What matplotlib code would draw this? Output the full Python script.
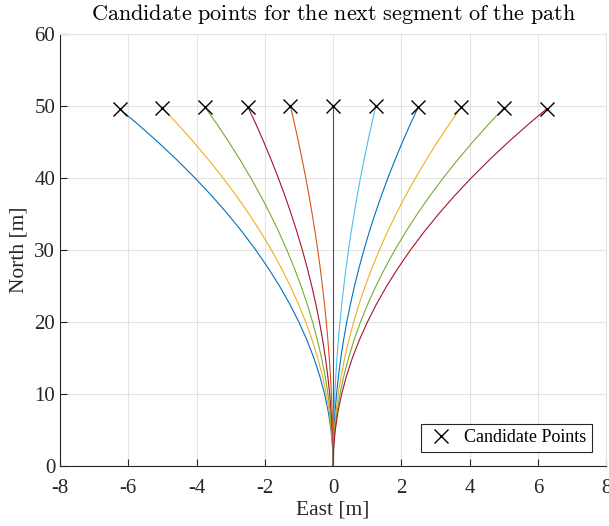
import numpy as np
import matplotlib.pyplot as plt

plt.rcParams['font.family'] = ['Liberation Serif', 'DejaVu Serif']
plt.rcParams['mathtext.fontset'] = 'cm'
plt.rcParams['axes.unicode_minus'] = False

# candidate points (end of each path)
cand_x = [-6.25, -5.0, -3.75, -2.5, -1.25, 0.0, 1.25, 2.5, 3.75, 5.0, 6.25]
cand_y = [49.61, 49.75, 49.86, 49.94, 49.98, 50.0, 49.98, 49.94, 49.86, 49.75, 49.61]

# path samples: lateral offset (east) read at fixed north levels
north_levels = [0, 2.5, 5, 7.5, 10, 12.5, 15, 17.5, 20, 22.5,
                25, 27.5, 30, 32.5, 35, 37.5, 40, 42.5, 45, 47.5]
offset_625 = [0, 0.0156, 0.0625, 0.1406, 0.250, 0.391, 0.563, 0.767, 1.003, 1.270,
              1.569, 1.900, 2.263, 2.658, 3.086, 3.547, 4.041, 4.568, 5.128, 5.722]
offset_500 = [0, 0.0125, 0.050, 0.1125, 0.200, 0.313, 0.450, 0.613, 0.801, 1.015,
              1.253, 1.517, 1.806, 2.121, 2.462, 2.828, 3.220, 3.639, 4.083, 4.554]
offset_375 = [0, 0.0094, 0.0375, 0.0844, 0.150, 0.2345, 0.338, 0.460, 0.601, 0.760,
              0.939, 1.136, 1.353, 1.588, 1.843, 2.116, 2.409, 2.720, 3.051, 3.402]
offset_250 = [0, 0.0063, 0.025, 0.0563, 0.100, 0.1563, 0.225, 0.306, 0.400, 0.507,
              0.625, 0.757, 0.901, 1.057, 1.227, 1.408, 1.603, 1.810, 2.029, 2.261]
offset_125 = [0, 0.0031, 0.0125, 0.0281, 0.050, 0.0781, 0.1125, 0.1531, 0.200, 0.2531,
              0.3125, 0.378, 0.450, 0.528, 0.613, 0.703, 0.800, 0.904, 1.013, 1.129]
offset_000 = [0] * 20

paths = [
    [-v for v in offset_625], [-v for v in offset_500], [-v for v in offset_375],
    [-v for v in offset_250], [-v for v in offset_125], offset_000,
    offset_125, offset_250, offset_375, offset_500, offset_625,
]

colors = ['#0072BD', '#EDB120', '#77AC30', '#A2142F', '#D95319', '#7E2F8E',
          '#4DBEEE', '#0072BD', '#EDB120', '#77AC30', '#A2142F']

fig = plt.figure(figsize=(6.09, 5.26), dpi=100)
ax = fig.add_axes([0.0985, 0.114, 0.897, 0.821])

for px, ex, ey, c in zip(paths, cand_x, cand_y, colors):
    ax.plot(px + [ex], north_levels + [ey], color=c, lw=0.8)

ax.plot(cand_x, cand_y, 'x', color='black', ms=10, mew=1.0, ls='none',
        label='Candidate Points')

ax.set_xlim(-8, 8)
ax.set_ylim(0, 60)
ax.set_xticks(range(-8, 9, 2))
ax.set_yticks(range(0, 61, 10))
ax.grid(True, color='#e3e3e3', lw=0.8)
ax.set_axisbelow(True)
ax.tick_params(direction='in', length=5, width=0.8, labelsize=15, colors='#262626')
ax.tick_params(axis='x', pad=9)
for s in ['top', 'right']:
    ax.spines[s].set_color('#e3e3e3')
for s in ['left', 'bottom']:
    ax.spines[s].set_color('#262626')
    ax.spines[s].set_linewidth(0.8)

ax.set_xlabel('East [m]', fontsize=15.5, color='#262626', labelpad=2)
ax.set_ylabel('North [m]', fontsize=15.5, color='#262626', labelpad=4)
ax.set_title(r'$\mathrm{Candidate\ points\ for\ the\ next\ segment\ of\ the\ path}$',
             fontsize=16, pad=10)

leg = ax.legend(loc='lower right', fontsize=13, fancybox=False, framealpha=1,
                edgecolor='#262626', borderaxespad=0.8, handletextpad=0.5,
                handlelength=1.6, borderpad=0.3)
leg.get_frame().set_linewidth(0.8)

fig.savefig('out.png', dpi=100)
